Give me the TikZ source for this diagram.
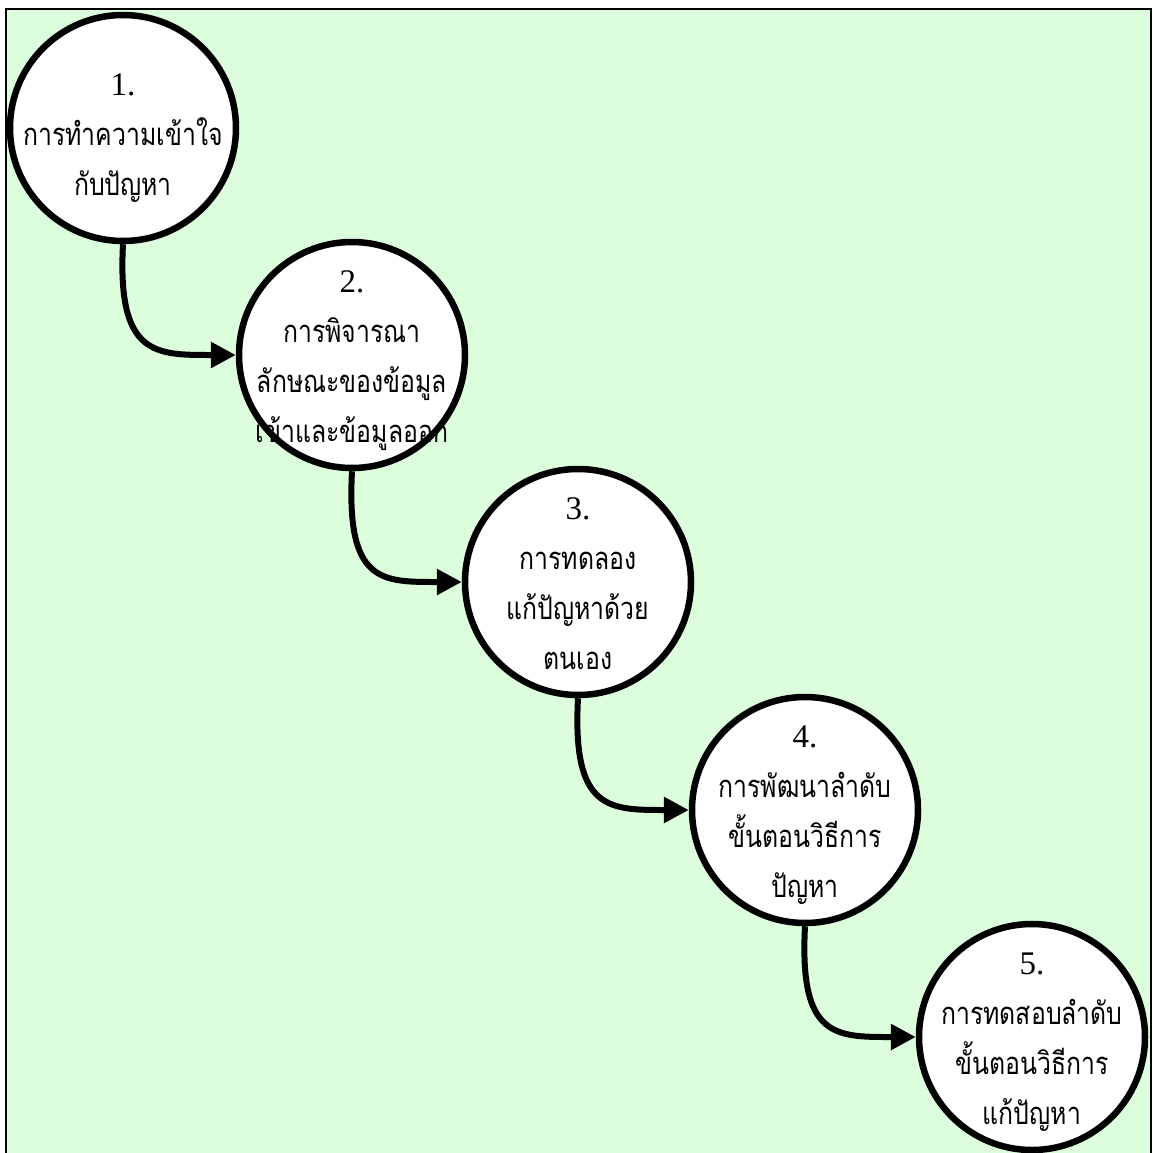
\documentclass[tikz,border=0pt]{standalone}
\usepackage{fontspec}
\setmainfont{Liberation Serif}
\newfontfamily\thaifont[Script=Thai,FakeStretch=0.8]{Loma}
\usetikzlibrary{arrows.meta}
\definecolor{bggreen}{RGB}{221,254,221}
\newcommand{\ctr}[1]{\hbox to 0pt{\hss#1\hss}}
\newcommand{\stk}[1]{\vtop{\baselineskip=50pt\lineskiplimit=-1000pt\lineskip=0pt #1}}
\newcommand{\stepnum}[1]{\ctr{\fontsize{33}{50}\selectfont #1}}
\newcommand{\thl}[1]{\ctr{\thaifont\fontsize{31}{50}\selectfont #1}}
\begin{document}
\begin{tikzpicture}[x=1pt,y=-1pt,
  stepcircle/.style={circle,draw=black,fill=white,line width=6.5pt,minimum size=226pt,inner sep=0pt},
  steptext/.style={inner sep=0pt,anchor=base},
  conn/.style={line width=6pt,-{Triangle[length=25pt,width=25pt]}}]
\useasboundingbox (0,0) rectangle (1152,1153);
\fill[bggreen] (6,9) rectangle (1151,1160);
\draw[line width=2.5pt] (6,1160) -- (6,9) -- (1151,9) -- (1151,1160);

\node[stepcircle] (c1) at (123,128) {};
\node[stepcircle] (c2) at (352,355) {};
\node[stepcircle] (c3) at (578,582) {};
\node[stepcircle] (c4) at (805,810) {};
\node[stepcircle] (c5) at (1032,1037) {};

\draw[conn] (c1.south) .. controls +(-6,112) and +(-80,0) .. (c2.west);
\draw[conn] (c2.south) .. controls +(-6,112) and +(-80,0) .. (c3.west);
\draw[conn] (c3.south) .. controls +(-6,112) and +(-80,0) .. (c4.west);
\draw[conn] (c4.south) .. controls +(-6,112) and +(-80,0) .. (c5.west);

\node[steptext] (t1) at (123,96) {\stk{\stepnum{1.}\thl{การทำความเข้าใจ}\thl{กับปัญหา}}};
\node[steptext] (t2) at (352,292) {\stk{\stepnum{2.}\thl{การพิจารณา}\thl{ลักษณะของข้อมูล}\thl{เข้าและข้อมูลออก}}};
\node[steptext] (t3) at (578,519) {\stk{\stepnum{3.}\thl{การทดลอง}\thl{แก้ปัญหาด้วย}\thl{ตนเอง}}};
\node[steptext] (t4) at (805,747) {\stk{\stepnum{4.}\thl{การพัฒนาลำดับ}\thl{ขั้นตอนวิธีการ}\thl{ปัญหา}}};
\node[steptext] (t5) at (1032,974) {\stk{\stepnum{5.}\thl{การทดสอบลำดับ}\thl{ขั้นตอนวิธีการ}\thl{แก้ปัญหา}}};
\end{tikzpicture}
\end{document}
